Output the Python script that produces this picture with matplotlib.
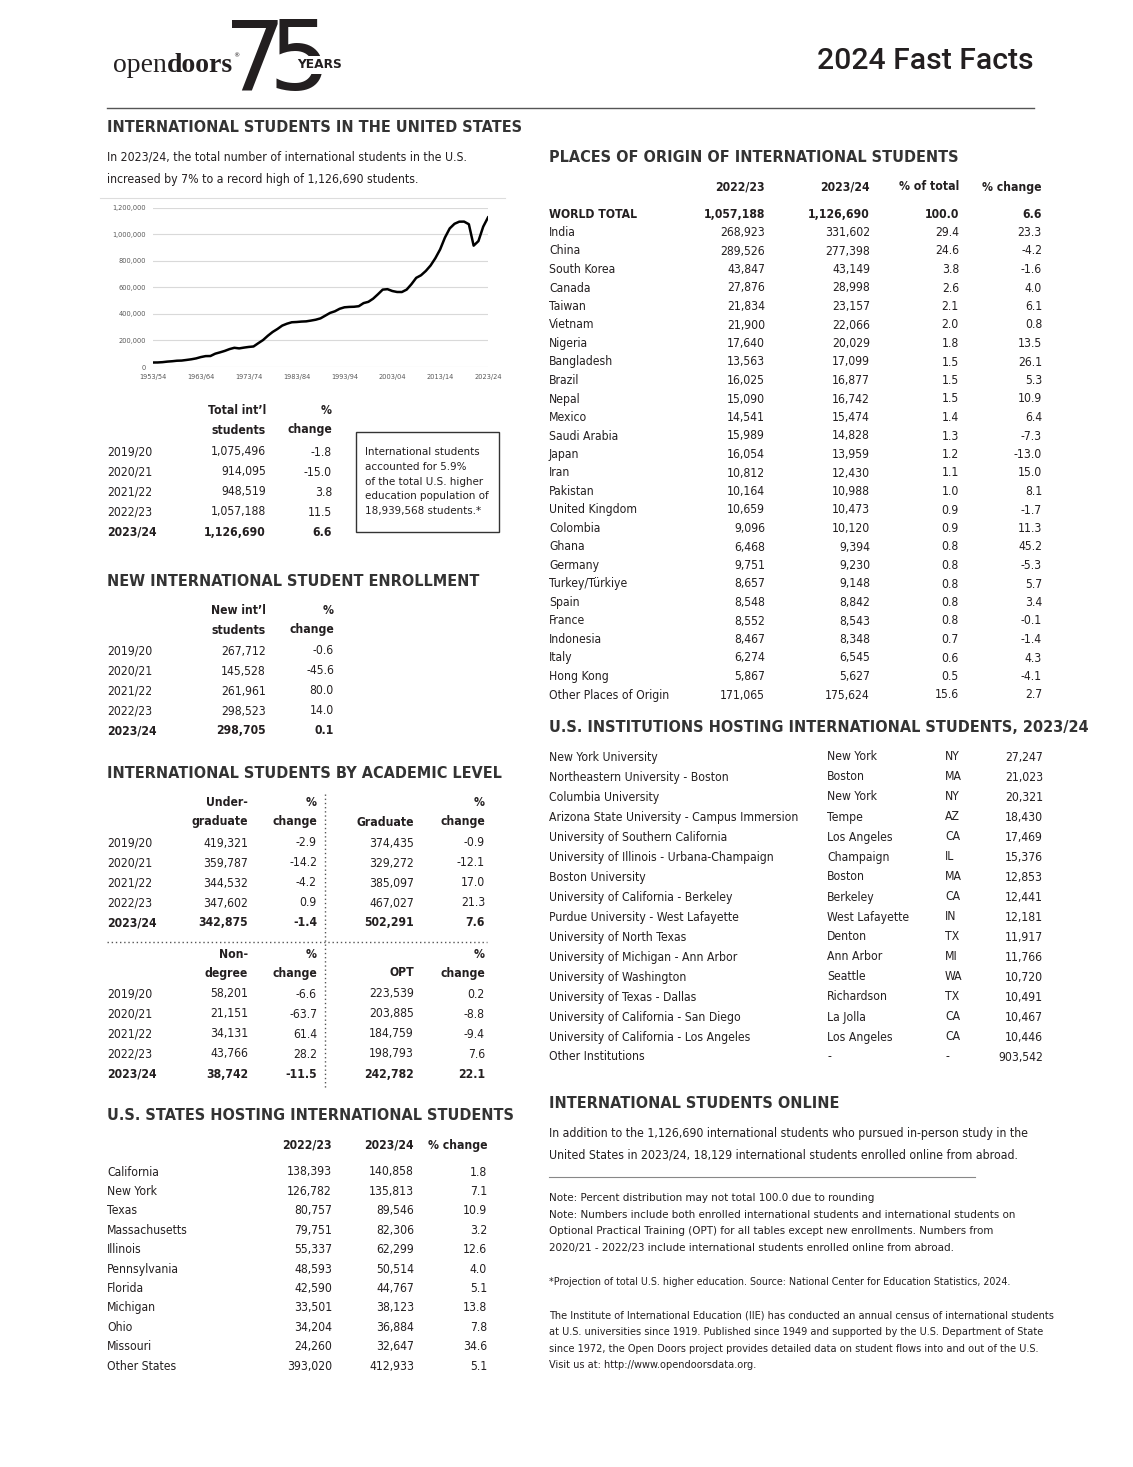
import matplotlib
matplotlib.use("Agg")
import matplotlib.pyplot as plt
from matplotlib import font_manager as fm
from matplotlib.patches import Rectangle
from matplotlib.ticker import FuncFormatter

W, H = 1133, 1467
INK = "#231f20"

# ---------------- data ----------------
trend_students = [33833, 34232, 36494, 40666, 43391, 47245, 48486, 53107, 58086, 64705,
                  74814, 82045, 82709, 100262, 110315, 121362, 134959, 144708, 140126, 146097,
                  151066, 154580, 179344, 203068, 235509, 263938, 286343, 311882, 326299, 336985,
                  338894, 342113, 343777, 349609, 356187, 366354, 386851, 407529, 419585, 438618,
                  449749, 452635, 453787, 457984, 481280, 490933, 514723, 547867, 582996, 586323,
                  572509, 565039, 564766, 582984, 623805, 671616, 690923, 723277, 764495, 819644,
                  886052, 974926, 1043839, 1078822, 1094792, 1095299, 1075496, 914095, 948519,
                  1057188, 1126690]
trend_ticks = ["1953/54", "1963/64", "1973/74", "1983/84", "1993/94",
               "2003/04", "2013/14", "2023/24"]

years = ["2019/20", "2020/21", "2021/22", "2022/23", "2023/24"]
total_students = ["1,075,496", "914,095", "948,519", "1,057,188", "1,126,690"]
total_change = ["-1.8", "-15.0", "3.8", "11.5", "6.6"]
new_students = ["267,712", "145,528", "261,961", "298,523", "298,705"]
new_change = ["-0.6", "-45.6", "80.0", "14.0", "0.1"]
undergrad = ["419,321", "359,787", "344,532", "347,602", "342,875"]
undergrad_change = ["-2.9", "-14.2", "-4.2", "0.9", "-1.4"]
graduate = ["374,435", "329,272", "385,097", "467,027", "502,291"]
graduate_change = ["-0.9", "-12.1", "17.0", "21.3", "7.6"]
nondegree = ["58,201", "21,151", "34,131", "43,766", "38,742"]
nondegree_change = ["-6.6", "-63.7", "61.4", "28.2", "-11.5"]
opt = ["223,539", "203,885", "184,759", "198,793", "242,782"]
opt_change = ["0.2", "-8.8", "-9.4", "7.6", "22.1"]

states = ["California", "New York", "Texas", "Massachusetts", "Illinois", "Pennsylvania",
          "Florida", "Michigan", "Ohio", "Missouri", "Other States"]
states_2223 = ["138,393", "126,782", "80,757", "79,751", "55,337", "48,593", "42,590",
               "33,501", "34,204", "24,260", "393,020"]
states_2324 = ["140,858", "135,813", "89,546", "82,306", "62,299", "50,514", "44,767",
               "38,123", "36,884", "32,647", "412,933"]
states_change = ["1.8", "7.1", "10.9", "3.2", "12.6", "4.0", "5.1", "13.8", "7.8", "34.6", "5.1"]

origins = ["WORLD TOTAL", "India", "China", "South Korea", "Canada", "Taiwan", "Vietnam",
           "Nigeria", "Bangladesh", "Brazil", "Nepal", "Mexico", "Saudi Arabia", "Japan",
           "Iran", "Pakistan", "United Kingdom", "Colombia", "Ghana", "Germany",
           "Turkey/Türkiye", "Spain", "France", "Indonesia", "Italy", "Hong Kong",
           "Other Places of Origin"]
origin_2223 = ["1,057,188", "268,923", "289,526", "43,847", "27,876", "21,834", "21,900",
               "17,640", "13,563", "16,025", "15,090", "14,541", "15,989", "16,054", "10,812",
               "10,164", "10,659", "9,096", "6,468", "9,751", "8,657", "8,548", "8,552",
               "8,467", "6,274", "5,867", "171,065"]
origin_2324 = ["1,126,690", "331,602", "277,398", "43,149", "28,998", "23,157", "22,066",
               "20,029", "17,099", "16,877", "16,742", "15,474", "14,828", "13,959", "12,430",
               "10,988", "10,473", "10,120", "9,394", "9,230", "9,148", "8,842", "8,543",
               "8,348", "6,545", "5,627", "175,624"]
origin_share = ["100.0", "29.4", "24.6", "3.8", "2.6", "2.1", "2.0", "1.8", "1.5", "1.5",
                "1.5", "1.4", "1.3", "1.2", "1.1", "1.0", "0.9", "0.9", "0.8", "0.8", "0.8",
                "0.8", "0.8", "0.7", "0.6", "0.5", "15.6"]
origin_change = ["6.6", "23.3", "-4.2", "-1.6", "4.0", "6.1", "0.8", "13.5", "26.1", "5.3",
                 "10.9", "6.4", "-7.3", "-13.0", "15.0", "8.1", "-1.7", "11.3", "45.2", "-5.3",
                 "5.7", "3.4", "-0.1", "-1.4", "4.3", "-4.1", "2.7"]

institutions = ["New York University", "Northeastern University - Boston", "Columbia University",
                "Arizona State University - Campus Immersion", "University of Southern California",
                "University of Illinois - Urbana-Champaign", "Boston University",
                "University of California - Berkeley", "Purdue University - West Lafayette",
                "University of North Texas", "University of Michigan - Ann Arbor",
                "University of Washington", "University of Texas - Dallas",
                "University of California - San Diego", "University of California - Los Angeles",
                "Other Institutions"]
inst_city = ["New York", "Boston", "New York", "Tempe", "Los Angeles", "Champaign", "Boston",
             "Berkeley", "West Lafayette", "Denton", "Ann Arbor", "Seattle", "Richardson",
             "La Jolla", "Los Angeles", "-"]
inst_state = ["NY", "MA", "NY", "AZ", "CA", "IL", "MA", "CA", "IN", "TX", "MI", "WA", "TX",
              "CA", "CA", "-"]
inst_count = ["27,247", "21,023", "20,321", "18,430", "17,469", "15,376", "12,853", "12,441",
              "12,181", "11,917", "11,766", "10,720", "10,491", "10,467", "10,446", "903,542"]

box_lines = ["International students", "accounted for 5.9%", "of the total U.S. higher",
             "education population of", "18,939,568 students.*"]
online_lines = ["In addition to the 1,126,690 international students who pursued in-person study in the",
                "United States in 2023/24, 18,129 international students enrolled online from abroad."]
notes = ["Note: Percent distribution may not total 100.0 due to rounding",
         "Note: Numbers include both enrolled international students and international students on",
         "Optional Practical Training (OPT) for all tables except new enrollments. Numbers from",
         "2020/21 - 2022/23 include international students enrolled online from abroad."]
projection = "*Projection of total U.S. higher education. Source: National Center for Education Statistics, 2024."
about = ["The Institute of International Education (IIE) has conducted an annual census of international students",
         "at U.S. universities since 1919. Published since 1949 and supported by the U.S. Department of State",
         "since 1972, the Open Doors project provides detailed data on student flows into and out of the U.S.",
         "Visit us at: http://www.opendoorsdata.org."]


# ---------------- fonts: prefer a narrow sans if one is installed ----------------
def find_narrow(bold):
    bases = ["liberation sans", "dejavu sans", "noto sans", "roboto", "open sans"]
    best = None
    for f in fm.fontManager.ttflist:
        nm = f.name.lower()
        base = next((b for b in bases if nm.startswith(b)), None)
        if base is None or f.style != "normal":
            continue
        rest = nm[len(base):].strip()
        if rest not in ("", "narrow", "condensed", "semicondensed", "semi condensed"):
            continue
        fn = f.fname.lower()
        if "extra" in fn or "ultra" in fn:
            continue
        narrow = f.stretch in ("condensed", "semi-condensed") or rest != ""
        if not narrow:
            continue
        w = f.weight if isinstance(f.weight, (int, float)) else fm.weight_dict.get(f.weight, 400)
        key = (abs(w - (700 if bold else 400)), bases.index(base))
        if key[0] > 150:
            continue
        if best is None or key < best[0]:
            best = (key, f.fname)
    return best[1] if best else None


reg_file, bold_file = find_narrow(False), find_narrow(True)
if reg_file and bold_file:
    BODY_R = fm.FontProperties(fname=reg_file)
    BODY_B = fm.FontProperties(fname=bold_file)
else:
    BODY_R = fm.FontProperties(family=["Roboto", "DejaVu Sans"])
    BODY_B = fm.FontProperties(family=["Roboto", "DejaVu Sans"], weight="bold")
HEAD = fm.FontProperties(family=["DejaVu Sans"], weight="bold")

# ---------------- page ----------------
fig = plt.figure(figsize=(W / 100, H / 100), dpi=100)
page = fig.add_axes([0, 0, 1, 1])
page.set_xlim(0, W)
page.set_ylim(H, 0)
page.axis("off")
renderer = fig.canvas.get_renderer()


def fp(bold, size):
    p = (BODY_B if bold else BODY_R).copy()
    p.set_size(size)
    return p


def fit(s, target, base=None):
    p = (base or BODY_R).copy()
    p.set_size(10)
    t = page.text(0, 0, s, fontproperties=p)
    w = t.get_window_extent(renderer).width
    t.remove()
    return 10 * target / w


FS = min(fit("Other Places of Origin", 120), fit("Arizona State University - Campus Immersion", 252))
HS = fit("PLACES OF ORIGIN OF INTERNATIONAL STUDENTS", 410, HEAD)


def txt(x, y, s, ha="left", bold=False, size=None, color=INK, **kw):
    return page.text(x, y, s, ha=ha, va="center", fontproperties=fp(bold, size or FS),
                     color=color, **kw)


def header(x, y, s):
    p = HEAD.copy()
    p.set_size(HS)
    return page.text(x, y, s, ha="left", va="center", fontproperties=p, color="#333333")


def column(x, ys, values, ha="right", bold_last=False):
    for i, (y, v) in enumerate(zip(ys, values)):
        txt(x, y, v, ha=ha, bold=bold_last and i == len(values) - 1)


def rows(y0, step, n):
    return [y0 + step * i for i in range(n)]


# logo
t_open = page.text(113, 72, "open", fontsize=20, family=["Liberation Serif"],
                   color=INK, va="baseline")
bb = t_open.get_window_extent(renderer)
t_doors = fig.text(bb.x1 / W, 1 - 72 / H, "doors", fontsize=20, fontweight="bold",
                   family=["Liberation Serif"], color=INK, va="baseline")
bb2 = t_doors.get_window_extent(renderer)
fig.text(bb2.x1 / W + 0.0005, 1 - 57 / H, "®", fontsize=4.5, color=INK, va="baseline")
page.text(224, 90, "7", fontsize=70, family=["DejaVu Sans"], color=INK, va="baseline")
page.text(268, 90, "5", fontsize=70, family=["DejaVu Sans"], color=INK, va="baseline")
page.add_patch(Rectangle((293, 56), 56, 18, facecolor="white", edgecolor="none", zorder=3))
page.text(297, 65, "YEARS", fontsize=8.8, fontweight="bold", family=["DejaVu Sans"],
          color=INK, va="center", zorder=4)

page.text(1034, 61, "2024 Fast Facts", ha="right", va="center", fontsize=21.7,
          family=["Roboto", "DejaVu Sans"], fontweight="medium", color=INK)
page.plot([107, 1034], [108, 108], color="#555555", lw=1)

# ---------------- left column ----------------
header(107, 127, "INTERNATIONAL STUDENTS IN THE UNITED STATES")
s_intro = fit("In 2023/24, the total number of international students in the U.S.", 360)
txt(107, 157, "In 2023/24, the total number of international students in the U.S.", size=s_intro)
txt(107, 179, "increased by 7% to a record high of 1,126,690 students.", size=s_intro)

# trend chart
page.plot([100, 505], [198, 198], color="#dddddd", lw=0.8)
ax = fig.add_axes([153 / W, 1 - 367 / H, (488 - 153) / W, (367 - 207.7) / H])
ax.plot(range(len(trend_students)), trend_students, color="black", lw=1.8)
ax.set_xlim(0, len(trend_students) - 1)
ax.set_ylim(0, 1200000)
ax.set_yticks(range(0, 1200001, 200000))
ax.yaxis.set_major_formatter(FuncFormatter(lambda v, p: f"{int(v):,}"))
ax.set_xticks(range(0, len(trend_students), 10))
ax.set_xticklabels(trend_ticks)
ax.tick_params(length=0, labelsize=4.8, labelcolor="#595959", pad=5)
ax.grid(axis="y", color="#d9d9d9", lw=0.8)
ax.set_axisbelow(True)
for s in ax.spines.values():
    s.set_visible(False)

# totals
txt(266, 411, "Total int\u2019l", ha="right", bold=True)
txt(266, 430, "students", ha="right", bold=True)
txt(332, 411, "%", ha="right", bold=True)
txt(332, 430, "change", ha="right", bold=True)
ys = rows(452, 20, 5)
column(107, ys, years, ha="left", bold_last=True)
column(266, ys, total_students, bold_last=True)
column(332, ys, total_change, bold_last=True)
page.add_patch(Rectangle((356, 432), 143, 100, facecolor="none", edgecolor="#333333", lw=1))
s_box = fit("education population of", 123)
for i, s in enumerate(box_lines):
    txt(365, 452 + 14.8 * i, s, size=s_box)

# new enrollment
header(107, 581, "NEW INTERNATIONAL STUDENT ENROLLMENT")
txt(266, 611, "New int\u2019l", ha="right", bold=True)
txt(266, 630, "students", ha="right", bold=True)
txt(334, 611, "%", ha="right", bold=True)
txt(334, 630, "change", ha="right", bold=True)
ys = rows(651, 20, 5)
column(107, ys, years, ha="left", bold_last=True)
column(266, ys, new_students, bold_last=True)
column(334, ys, new_change, bold_last=True)

# academic level
header(107, 773, "INTERNATIONAL STUDENTS BY ACADEMIC LEVEL")
for top, lab1, lab2, vals1, ch1, lab3, vals2, ch2 in [
        (803, "Under-", "graduate", undergrad, undergrad_change, "Graduate", graduate, graduate_change),
        (954, "Non-", "degree", nondegree, nondegree_change, "OPT", opt, opt_change)]:
    txt(248, top, lab1, ha="right", bold=True)
    txt(248, top + 19, lab2, ha="right", bold=True)
    txt(317, top, "%", ha="right", bold=True)
    txt(317, top + 19, "change", ha="right", bold=True)
    txt(414, top + 19, lab3, ha="right", bold=True)
    txt(485, top, "%", ha="right", bold=True)
    txt(485, top + 19, "change", ha="right", bold=True)
    ys = rows(top + 40, 20, 5)
    column(107, ys, years, ha="left", bold_last=True)
    column(248, ys, vals1, bold_last=True)
    column(317, ys, ch1, bold_last=True)
    column(414, ys, vals2, bold_last=True)
    column(485, ys, ch2, bold_last=True)
page.plot([325, 325], [794, 1088], color="#555555", lw=1, ls=(0, (1, 2)))
page.plot([107, 487], [942, 942], color="#555555", lw=1, ls=(0, (1, 2)))

# states
header(107, 1116, "U.S. STATES HOSTING INTERNATIONAL STUDENTS")
txt(332, 1145, "2022/23", ha="right", bold=True)
txt(414, 1145, "2023/24", ha="right", bold=True)
txt(487, 1145, "% change", ha="right", bold=True)
ys = rows(1172, 19.42, len(states))
column(107, ys, states, ha="left")
column(332, ys, states_2223)
column(414, ys, states_2324)
column(487, ys, states_change)

# ---------------- right column ----------------
header(549, 158, "PLACES OF ORIGIN OF INTERNATIONAL STUDENTS")
txt(765, 187, "2022/23", ha="right", bold=True)
txt(870, 187, "2023/24", ha="right", bold=True)
txt(959, 187, "% of total", ha="right", bold=True)
txt(1042, 187, "% change", ha="right", bold=True)
ys = rows(214, 18.5, len(origins))
for i, y in enumerate(ys):
    b = i == 0
    txt(549, y, origins[i], bold=b)
    txt(765, y, origin_2223[i], ha="right", bold=b)
    txt(870, y, origin_2324[i], ha="right", bold=b)
    txt(959, y, origin_share[i], ha="right", bold=b)
    txt(1042, y, origin_change[i], ha="right", bold=b)

header(549, 728, "U.S. INSTITUTIONS HOSTING INTERNATIONAL STUDENTS, 2023/24")
ys = rows(757, 20, len(institutions))
column(549, ys, institutions, ha="left")
column(827, ys, inst_city, ha="left")
column(945, ys, inst_state, ha="left")
column(1043, ys, inst_count)

header(549, 1103, "INTERNATIONAL STUDENTS ONLINE")
s_online = fit(online_lines[0], 481)
for i, s in enumerate(online_lines):
    txt(549, 1133 + 22 * i, s, size=s_online)
page.plot([549, 975], [1177, 1177], color="#888888", lw=0.8)

s_notes = fit(notes[1], 465)
for i, s in enumerate(notes):
    txt(549, 1198 + 16.7 * i, s, size=s_notes)
txt(549, 1282, projection, size=fit(projection, 462))
s_about = fit(about[0], 503)
for i, s in enumerate(about):
    txt(549, 1316 + 16.4 * i, s, size=s_about)

fig.savefig("out.png", dpi=100, facecolor="white")
